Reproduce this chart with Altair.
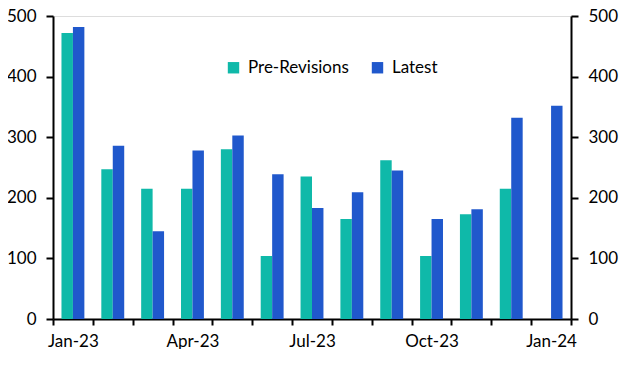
import altair as alt
import pandas as pd

months = ["Jan-23", "Feb-23", "Mar-23", "Apr-23", "May-23", "Jun-23", "Jul-23",
          "Aug-23", "Sep-23", "Oct-23", "Nov-23", "Dec-23", "Jan-24"]
pre_revisions = [472, 247, 215, 215, 280, 104, 235, 165, 262, 104, 173, 215, None]
latest = [482, 286, 145, 278, 303, 239, 183, 209, 245, 165, 181, 332, 352]
series = ["Pre-Revisions", "Latest"]
colors = ["#0FB9A9", "#2058CC"]
y_ticks = [0, 100, 200, 300, 400, 500]
shown_labels = ["Jan-23", "Apr-23", "Jul-23", "Oct-23", "Jan-24"]

rows = []
for m, p, l in zip(months, pre_revisions, latest):
    rows.append({"month": m, "series": series[0], "value": p})
    rows.append({"month": m, "series": series[1], "value": l})
df = pd.DataFrame(rows)

FONT = "Lato"
FS = 17

label_expr = "indexof(" + str(shown_labels) + ", datum.label) >= 0 ? datum.label : ''"

x_enc = alt.X(
    "month:N", sort=months, title=None,
    scale=alt.Scale(paddingInner=0, paddingOuter=0),
    axis=alt.Axis(labelAngle=0, labelExpr=label_expr, tickBand="extent",
                  tickSize=6, tickWidth=2, domainWidth=2, domainColor="black",
                  tickColor="black", labelColor="black", labelFont=FONT,
                  labelFontSize=FS, labelPadding=8, grid=False),
)

bars = alt.Chart(df).mark_bar().encode(
    x=x_enc,
    xOffset=alt.XOffset("series:N", sort=series,
                        scale=alt.Scale(domain=series, paddingInner=0, paddingOuter=0.74)),
    y=alt.Y("value:Q", title=None,
            scale=alt.Scale(domain=[0, 500]),
            axis=alt.Axis(values=y_ticks, orient="left", tickSize=7, tickWidth=2,
                          domainWidth=2, domainColor="black", tickColor="black",
                          labelColor="black", labelFont=FONT, labelFontSize=FS,
                          labelPadding=10, grid=False)),
    color=alt.Color("series:N", sort=series,
                    scale=alt.Scale(domain=series, range=colors),
                    legend=alt.Legend(title=None, orient="none", legendX=172, legendY=43,
                                      direction="horizontal", symbolType="square",
                                      symbolSize=130, symbolStrokeWidth=0,
                                      labelFont=FONT, labelFontSize=FS,
                                      labelColor="black", columnPadding=20,
                                      labelOffset=6)),
)

right = alt.Chart(df).mark_bar(opacity=0).encode(
    x=alt.X("month:N", sort=months, scale=alt.Scale(paddingInner=0, paddingOuter=0)),
    y=alt.Y("value:Q", title=None,
            scale=alt.Scale(domain=[0, 500]),
            axis=alt.Axis(values=y_ticks, orient="right", tickSize=7, tickWidth=2,
                          domainWidth=2, domainColor="black", tickColor="black",
                          labelColor="black", labelFont=FONT, labelFontSize=FS,
                          labelPadding=10, grid=False)),
)

chart = alt.layer(bars, right).resolve_scale(y="independent").properties(
    width=518, height=303,
    autosize=alt.AutoSizeParams(type="none"),
    padding={"left": 45, "top": 8, "right": 49, "bottom": 30},
).configure_view(stroke=None).configure(background="white")

chart.save("out.html", embed_options={"renderer": "svg", "actions": False})
